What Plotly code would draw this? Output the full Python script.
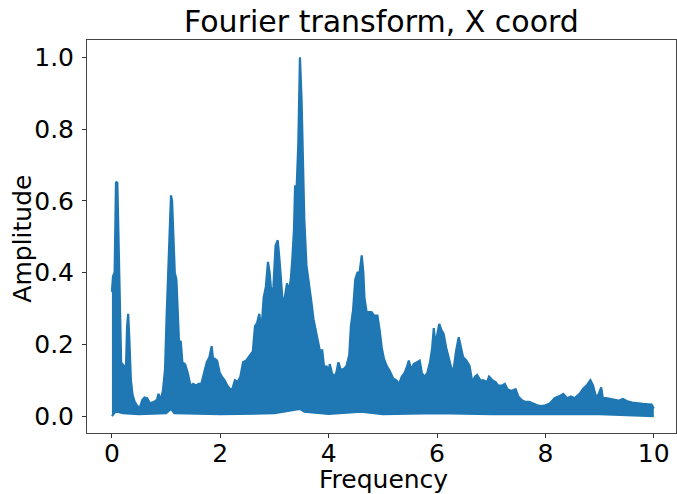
import plotly.graph_objects as go

# Upper envelope of the dense amplitude spectrum
freq_upper = [0.000, 0.02, 0.05, 0.06, 0.075, 0.10, 0.12, 0.14, 0.17, 0.22, 0.26, 0.28, 0.30, 0.32, 0.35,
              0.38, 0.42, 0.48, 0.52, 0.56, 0.60, 0.65, 0.70, 0.78, 0.83, 0.86, 0.90, 0.94, 0.98, 1.01,
              1.04, 1.07, 1.09, 1.11, 1.13, 1.16, 1.19, 1.21, 1.24, 1.27, 1.30, 1.35, 1.40, 1.45, 1.50,
              1.55, 1.60, 1.65, 1.70, 1.75, 1.80, 1.84, 1.87, 1.90, 1.94, 1.99, 2.03, 2.08, 2.13, 2.18,
              2.22, 2.27, 2.32, 2.37, 2.42, 2.48, 2.55, 2.60, 2.64, 2.68, 2.72, 2.76, 2.80, 2.84, 2.88,
              2.91, 2.95, 2.98, 3.02, 3.06, 3.09, 3.12, 3.15, 3.19, 3.23, 3.27, 3.30, 3.33, 3.36, 3.38,
              3.41, 3.44, 3.47, 3.50, 3.52, 3.55, 3.59, 3.63, 3.68, 3.72, 3.76, 3.80, 3.84, 3.88, 3.92,
              3.96, 4.00, 4.02, 4.06, 4.10, 4.14, 4.18, 4.22, 4.27, 4.33, 4.38, 4.41, 4.45, 4.49, 4.53,
              4.57, 4.61, 4.64, 4.66, 4.70, 4.75, 4.79, 4.84, 4.90, 4.94, 4.98, 5.02, 5.07, 5.13, 5.19,
              5.25, 5.30, 5.35, 5.40, 5.45, 5.48, 5.52, 5.57, 5.63, 5.68, 5.72, 5.77, 5.82, 5.87, 5.91,
              5.94, 5.97, 6.00, 6.04, 6.08, 6.12, 6.17, 6.22, 6.27, 6.31, 6.35, 6.40, 6.44, 6.48, 6.54,
              6.60, 6.65, 6.70, 6.74, 6.80, 6.86, 6.92, 6.96, 7.02, 7.08, 7.13, 7.20, 7.25, 7.30, 7.37,
              7.45, 7.50, 7.56, 7.62, 7.70, 7.77, 7.85, 7.92, 8.00, 8.08, 8.17, 8.25, 8.33, 8.40, 8.47,
              8.54, 8.63, 8.70, 8.76, 8.83, 8.88, 8.93, 8.98, 9.03, 9.06, 9.12, 9.25, 9.35, 9.43, 9.50,
              9.60, 9.68, 9.80, 9.90, 9.96, 10.00]
amp_upper = [0.346, 0.39, 0.40, 0.60, 0.653, 0.650, 0.51, 0.31, 0.15, 0.14, 0.14, 0.25, 0.285, 0.22, 0.10,
             0.06, 0.04, 0.026, 0.026, 0.045, 0.052, 0.05, 0.036, 0.04, 0.045, 0.062, 0.045, 0.07, 0.13, 0.28,
             0.41, 0.58, 0.615, 0.60, 0.50, 0.40, 0.38, 0.30, 0.20, 0.21, 0.15, 0.145, 0.12, 0.085, 0.09,
             0.085, 0.09, 0.09, 0.12, 0.15, 0.165, 0.195, 0.155, 0.16, 0.155, 0.12, 0.11, 0.10, 0.085, 0.075,
             0.075, 0.10, 0.095, 0.11, 0.15, 0.155, 0.17, 0.18, 0.25, 0.26, 0.285, 0.24, 0.33, 0.36, 0.43,
             0.40, 0.33, 0.36, 0.475, 0.49, 0.44, 0.38, 0.32, 0.33, 0.37, 0.35, 0.38, 0.44, 0.52, 0.64,
             0.64, 0.76, 1.00, 0.88, 0.72, 0.55, 0.42, 0.38, 0.32, 0.27, 0.24, 0.22, 0.18, 0.185, 0.13,
             0.14, 0.125, 0.145, 0.12, 0.11, 0.12, 0.15, 0.13, 0.13, 0.14, 0.17, 0.25, 0.295, 0.38, 0.40,
             0.40, 0.448, 0.40, 0.33, 0.29, 0.29, 0.29, 0.28, 0.28, 0.24, 0.19, 0.16, 0.14, 0.125, 0.105,
             0.10, 0.09, 0.11, 0.12, 0.14, 0.155, 0.13, 0.145, 0.15, 0.155, 0.12, 0.11, 0.12, 0.15, 0.19,
             0.245, 0.20, 0.23, 0.257, 0.24, 0.23, 0.19, 0.16, 0.13, 0.135, 0.18, 0.22, 0.19, 0.165, 0.155,
             0.14, 0.095, 0.11, 0.115, 0.10, 0.10, 0.095, 0.11, 0.10, 0.095, 0.085, 0.085, 0.09, 0.075, 0.07,
             0.075, 0.055, 0.045, 0.04, 0.04, 0.035, 0.03, 0.028, 0.03, 0.035, 0.05, 0.055, 0.062, 0.05, 0.055,
             0.05, 0.062, 0.077, 0.085, 0.10, 0.085, 0.055, 0.06, 0.08, 0.05, 0.05, 0.045, 0.043, 0.048, 0.042,
             0.038, 0.036, 0.034, 0.033, 0.032, 0.021]

# Lower envelope of the dense spectrum
freq_lower = [0.0, 0.05, 0.10, 0.20, 0.50, 1.00, 1.09, 1.15, 2.00, 3.00, 3.47, 3.55, 4.00, 4.60,
              5.00, 6.00, 7.00, 8.00, 9.00, 10.00]
amp_lower = [0.0, 0.010, 0.012, 0.008, 0.005, 0.008, 0.020, 0.008, 0.005, 0.008, 0.020, 0.012, 0.006,
             0.012, 0.005, 0.008, 0.005, 0.004, 0.005, 0.0]

x_ticks = [0, 2, 4, 6, 8, 10]
y_ticks = [0.0, 0.2, 0.4, 0.6, 0.8, 1.0]
y_tick_labels = ["0.0", "0.2", "0.4", "0.6", "0.8", "1.0"]

C0 = "#1f77b4"
FONT = "DejaVu Sans"

fig = go.Figure()
fig.add_trace(go.Scatter(x=freq_lower, y=amp_lower, mode="lines",
                         line=dict(color=C0, width=2), showlegend=False, hoverinfo="skip"))
fig.add_trace(go.Scatter(x=freq_upper, y=amp_upper, mode="lines", fill="tonexty",
                         fillcolor=C0, line=dict(color=C0, width=2.2), showlegend=False))

fig.update_layout(
    width=677, height=494,
    margin=dict(l=87, r=1, t=40, b=61, autoexpand=False),
    paper_bgcolor="white", plot_bgcolor="white",
    font=dict(family=FONT, color="black"),
    title=dict(text="Fourier transform, X coord", font=dict(size=30, family=FONT, color="black"),
               x=381.5 / 677, xref="container", xanchor="center",
               y=1 - 21 / 494, yref="container", yanchor="middle", automargin=False),
    annotations=[
        dict(text="Frequency", xref="paper", yref="paper", x=0.504, y=-0.118,
             xanchor="center", yanchor="middle", showarrow=False,
             font=dict(size=25, family=FONT, color="black")),
        dict(text="Amplitude", xref="paper", yref="paper", x=-0.109, y=0.494,
             xanchor="center", yanchor="middle", textangle=-90, showarrow=False,
             font=dict(size=25, family=FONT, color="black")),
    ],
)
fig.update_xaxes(range=[-0.46, 10.41], tickvals=x_ticks, ticktext=[str(t) for t in x_ticks],
                 showgrid=False, zeroline=False, showline=True, mirror=True, linecolor="#444", linewidth=1,
                 ticks="outside", ticklen=4, tickcolor="#333", tickfont=dict(size=25, family=FONT),
                 ticklabelstandoff=-6, automargin=False)
fig.update_yaxes(range=[-0.047, 1.048], tickvals=y_ticks, ticktext=y_tick_labels,
                 showgrid=False, zeroline=False, showline=True, mirror=True, linecolor="#444", linewidth=1,
                 ticks="outside", ticklen=4, tickcolor="#333", tickfont=dict(size=25, family=FONT),
                 ticklabelstandoff=3, automargin=False)

fig.write_html("out.html", config={"displayModeBar": False},
               post_script="document.body.style.margin='0';document.body.style.overflow='hidden';")
